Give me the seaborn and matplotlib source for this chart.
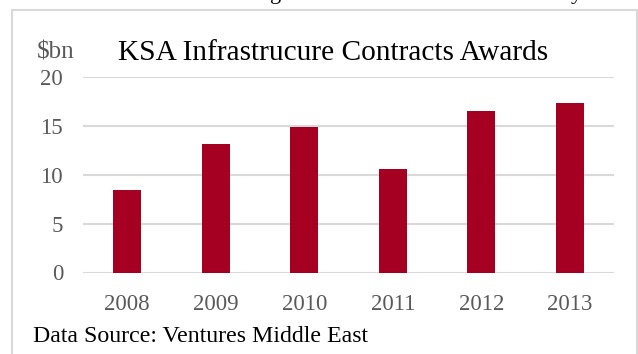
import matplotlib
matplotlib.use("Agg")
import matplotlib.pyplot as plt
import seaborn as sns
from matplotlib.patches import Rectangle

years = ["2008", "2009", "2010", "2011", "2012", "2013"]
values = [8.4, 13.1, 14.9, 10.55, 16.5, 17.3]
yticks = [0, 5, 10, 15, 20]

sns.set_theme(style="white")
plt.rcParams['font.family'] = ['Liberation Serif', 'DejaVu Serif']

W, H = 638, 354
fig = plt.figure(figsize=(W / 100, H / 100), dpi=100)
ax = fig.add_axes([83 / W, 1 - 272.5 / H, (614 - 83) / W, (272.5 - 77) / H])

sns.barplot(x=years, y=values, color="#A50021", saturation=1, width=0.316,
            edgecolor="none", ax=ax, zorder=3)

ax.set_ylim(0, 20)
ax.set_xlim(-0.5, 5.5)
ax.set_yticks(yticks)
ax.set_yticklabels([str(v) for v in yticks])
for y in yticks:
    ax.axhline(y, color="#D9D9D9", lw=1.5, zorder=1)
for s in ax.spines.values():
    s.set_visible(False)
ax.tick_params(axis="both", length=0, labelsize=16.5, labelcolor="#595959")
ax.tick_params(axis="y", pad=14.4)
ax.tick_params(axis="x", pad=15.5)
ax.set_xlabel("")
ax.set_ylabel("")

# outer chart border
fig.patches.append(Rectangle((12 / W, -0.05), (637 - 12) / W, 1 - 10 / H + 0.05,
                             transform=fig.transFigure, fill=False,
                             edgecolor="#D9D9D9", lw=1.5))

# fragments of the surrounding page text (cut off at the top)
fig.text(270 / W, 1 + 1 / H, "g", fontsize=16, color="black",
         ha="left", va="baseline")
fig.text(571 / W, 1 + 1 / H, "y", fontsize=16, color="black",
         ha="left", va="baseline")

fig.text(37 / W, 1 - 58 / H, "\\$bn", fontsize=18, color="#595959",
         ha="left", va="baseline")
fig.text(118 / W, 1 - 60 / H, "KSA Infrastrucure Contracts Awards",
         fontsize=21.2, color="black", ha="left", va="baseline")
fig.text(33 / W, 1 - 342 / H, "Data Source: Ventures Middle East",
         fontsize=17.2, color="black", ha="left", va="baseline")

fig.savefig("out.png", dpi=100)
